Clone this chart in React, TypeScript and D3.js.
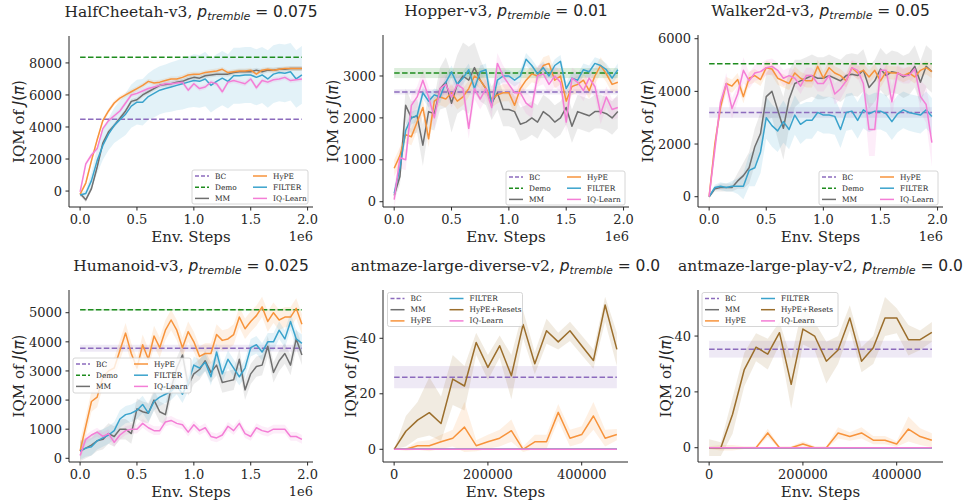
import React from 'react';
import * as d3 from 'd3';

// ---------- colours ----------
const C_BC = '#8c6bbd';
const C_DEMO = '#1e8c1e';
const C_MM = '#6f6f6f';
const C_HYPE = '#f7933b';
const C_FILTER = '#3aa3cc';
const C_IQ = '#f47ed6';
const C_RESETS = '#9b6e2c';

// ---------- x steps ----------
const mujocoSteps = [0, 50000, 100000, 150000, 200000, 250000, 300000, 350000, 400000, 450000, 500000, 550000, 600000, 650000, 700000, 750000, 800000, 850000, 900000, 950000, 1000000, 1050000, 1100000, 1150000, 1200000, 1250000, 1300000, 1350000, 1400000, 1450000, 1500000, 1550000, 1600000, 1650000, 1700000, 1750000, 1800000, 1850000, 1900000, 1950000];
const antSteps = [0, 25000, 50000, 75000, 100000, 125000, 150000, 175000, 200000, 225000, 250000, 275000, 300000, 325000, 350000, 375000, 400000, 425000, 450000, 475000];

const mujocoXTicks = [0, 500000, 1000000, 1500000, 2000000];
const antXTicks = [0, 200000, 400000];

// ---------- HalfCheetah ----------
const hcBC = 4480;
const hcDemo = 8350;
const hcMM = [-150, -550, 150, 1500, 3000, 3700, 4100, 4550, 5000, 5600, 5700, 6000, 6200, 6400, 6600, 6650, 6700, 6800, 6850, 7000, 7100, 7050, 7200, 7250, 7300, 7300, 7300, 7400, 7450, 7450, 7450, 7550, 7450, 7550, 7550, 7600, 7600, 7650, 7650, 7650];
const hcHyPE = [-200, 500, 1900, 3200, 4400, 5000, 5500, 5800, 6000, 6200, 6400, 6600, 6850, 6750, 6800, 6900, 7000, 7000, 7100, 7250, 7300, 7300, 7400, 7450, 7500, 7600, 7400, 7450, 7500, 7500, 7550, 7300, 7550, 7600, 7550, 7600, 7650, 7650, 7650, 7650];
const hcFilter = [-250, -150, 650, 1900, 2850, 3550, 4100, 4450, 4800, 5300, 5550, 5550, 5900, 6100, 6300, 6400, 6500, 6600, 6700, 6800, 6900, 6850, 7000, 6600, 6850, 7050, 6850, 7200, 7200, 7250, 7250, 7100, 7250, 7000, 7300, 7400, 7350, 7450, 7000, 7250];
const hcFilterSpread = [100, 200, 500, 800, 900, 1000, 1100, 1200, 1300, 1350, 1400, 1450, 1450, 1500, 1500, 1500, 1550, 1550, 1600, 1600, 1650, 1650, 1700, 1700, 1700, 1700, 1700, 1750, 1750, 1750, 1750, 1750, 1750, 1800, 1800, 1800, 1800, 1800, 1800, 1800];
const hcIQ = [-50, 1700, 2250, 2650, 3900, 4400, 4700, 5000, 5500, 6000, 6100, 6250, 6400, 6500, 6600, 6700, 6700, 6750, 6800, 6300, 6700, 6400, 6500, 6800, 6700, 6200, 6800, 6900, 6800, 6700, 7000, 6450, 6900, 6800, 6950, 7000, 7100, 6900, 6950, 7000];

// ---------- Hopper ----------
const hpBC = 2620;
const hpDemo = 3070;
const hpMM = [150, 600, 2300, 2000, 2050, 1350, 2150, 2100, 2700, 2850, 2350, 2800, 3000, 2900, 3200, 2900, 2700, 2350, 2600, 2200, 2200, 2150, 1850, 1900, 2000, 1900, 2150, 2050, 1900, 2000, 2250, 1800, 2150, 2100, 2050, 2150, 2150, 2100, 2000, 2150];
const hpMMSpread = [100, 200, 400, 400, 400, 500, 400, 400, 500, 600, 700, 700, 800, 800, 600, 500, 400, 400, 400, 400, 400, 400, 400, 400, 400, 400, 400, 400, 400, 400, 400, 400, 400, 400, 400, 400, 400, 400, 400, 400];
const hpHyPE = [800, 1100, 1600, 1550, 1900, 2250, 1500, 2400, 2500, 2450, 2600, 2400, 2500, 2700, 3000, 2900, 2700, 2450, 2550, 2600, 2600, 2300, 2700, 2900, 3050, 3000, 3250, 3300, 2900, 3000, 2400, 2750, 2800, 2900, 2650, 3000, 3250, 3050, 2800, 2850];
const hpFilter = [200, 800, 1700, 2000, 2050, 2600, 2400, 2550, 2500, 2850, 3100, 2800, 2950, 3150, 2700, 3100, 3150, 2300, 2900, 3000, 3000, 2900, 3000, 3400, 3250, 3050, 3200, 3000, 3250, 3350, 2700, 2950, 2900, 3150, 3100, 3300, 3250, 3150, 2950, 3150];
const hpIQ = [50, 1050, 1000, 2300, 2500, 2900, 2500, 2000, 2700, 2800, 2500, 2800, 2700, 1750, 2700, 2450, 2700, 2250, 3300, 3000, 2800, 2600, 2600, 2350, 2250, 3000, 3050, 2800, 3000, 2850, 1900, 2950, 2850, 2650, 2950, 2750, 2100, 2500, 2200, 2250];

// ---------- Walker2d ----------
const wkBC = 3200;
const wkDemo = 5050;
const wkMM = [0, 300, 350, 350, 350, 600, 800, 1100, 1900, 2400, 3800, 4000, 3300, 2600, 3700, 4300, 4400, 4500, 4600, 4500, 4500, 4600, 4500, 4400, 4600, 4650, 4600, 4800, 4150, 4400, 4850, 4600, 4750, 4700, 4550, 4650, 4950, 4350, 4950, 4750];
const wkMMSpread = [50, 100, 150, 150, 150, 300, 500, 600, 700, 800, 900, 1000, 1100, 1200, 1100, 900, 800, 800, 800, 800, 800, 800, 800, 800, 800, 800, 800, 800, 800, 800, 800, 800, 800, 800, 800, 800, 800, 800, 800, 800];
const wkHyPE = [0, 2000, 3400, 4300, 4200, 4450, 3800, 4500, 4600, 4450, 4900, 4850, 4500, 4400, 4300, 4700, 4500, 4400, 4400, 4950, 4500, 4900, 4700, 4600, 4400, 4900, 4700, 4800, 4550, 4800, 4400, 4750, 4700, 4700, 4600, 4700, 4550, 4800, 4900, 4750];
const wkFilter = [0, 350, 400, 350, 400, 400, 400, 1000, 1100, 1700, 3000, 2700, 2500, 2850, 2550, 3100, 2750, 2900, 2900, 3200, 3100, 3100, 3050, 2550, 3200, 3250, 2900, 3300, 3150, 3250, 3250, 3150, 2850, 3150, 3300, 3200, 3150, 3100, 3300, 3050];
const wkFilterSpread = [50, 100, 150, 150, 200, 300, 500, 600, 700, 800, 800, 800, 800, 800, 750, 750, 750, 700, 700, 700, 700, 700, 700, 700, 700, 700, 700, 700, 700, 700, 700, 700, 700, 700, 700, 700, 700, 700, 700, 700];
const wkIQ = [0, 1800, 3600, 4300, 3350, 3900, 4800, 4400, 4700, 4750, 4900, 4950, 4800, 4500, 4600, 4500, 4200, 4600, 4600, 4300, 4300, 4600, 3900, 4100, 4400, 4900, 4800, 4300, 2550, 2550, 4800, 4800, 3600, 4700, 4600, 4600, 4850, 3800, 3500, 2050];
const wkIQSpread = [0, 300, 300, 400, 400, 300, 500, 300, 300, 300, 300, 300, 300, 300, 300, 300, 300, 300, 300, 300, 300, 300, 400, 400, 300, 300, 300, 300, 1000, 1000, 300, 300, 600, 300, 300, 300, 300, 600, 700, 900];

// ---------- Humanoid ----------
const hmBC = 3780;
const hmDemo = 5100;
const hmMM = [250, 350, 450, 600, 650, 850, 750, 1000, 1000, 850, 1700, 1600, 1550, 2000, 1600, 1500, 2400, 3100, 3550, 2500, 2900, 3050, 3350, 2950, 3200, 2600, 2650, 2700, 3400, 2350, 2900, 3150, 3200, 3850, 2950, 3350, 3600, 3200, 4100, 3550];
const hmHyPE = [250, 1100, 1950, 2100, 2800, 3000, 3100, 3700, 4300, 3600, 3100, 3900, 3400, 4200, 3800, 4400, 4750, 4400, 3800, 4350, 4000, 3500, 3600, 3600, 4250, 4050, 4100, 4250, 4850, 4450, 4700, 4900, 5200, 4700, 5000, 4750, 4850, 4850, 5150, 4600];
const hmFilter = [250, 350, 400, 600, 700, 800, 950, 1350, 1500, 1550, 1650, 1850, 1550, 1950, 2100, 2200, 2300, 2500, 2200, 2600, 3200, 3100, 3300, 2800, 3650, 2900, 3400, 3100, 2800, 3100, 3800, 3900, 3650, 4000, 4000, 4400, 4100, 4700, 4100, 3950];
const hmIQ = [100, 650, 800, 900, 750, 850, 550, 800, 950, 1000, 1000, 1200, 1050, 950, 950, 1250, 1300, 1200, 1150, 900, 1150, 950, 1050, 750, 700, 800, 1100, 950, 1200, 850, 750, 1050, 950, 900, 1000, 1000, 1000, 750, 750, 650];

// ---------- antmaze-large-diverse ----------
const adBC = 26;
const adZero = [0, 0, 0, 0, 0, 0, 0, 0, 0, 0, 0, 0, 0, 0, 0, 0, 0, 0, 0, 0];
const adHyPE = [0, 0, 1.3, 1.3, 2.7, 4, 8, 1.3, 2.7, 4, 6.7, 0, 2.7, 2.7, 13.3, 4, 5.3, 12, 4, 5.3];
const adHyPESpread = [0, 0.5, 1.5, 2, 2.5, 3, 9, 2, 2.5, 3, 4, 1, 2.5, 2.5, 3, 3, 3, 5, 3, 2];
const adResets = [0, 6.5, 10.5, 13.2, 9.3, 25.3, 22.8, 38.5, 29.5, 37.3, 26.5, 45, 30.8, 42.7, 38.7, 42.7, 37.3, 32, 52, 36];
const adResetsLo = [0, 1, 4, 5, 3, 16, 14, 34, 25, 33, 18, 40, 27, 38, 36, 39, 34, 29, 46, 30];
const adResetsHi = [0, 12, 17, 26, 19, 34, 30, 42, 34, 41, 34, 50, 35, 47, 42, 46, 41, 36, 55, 42];

// ---------- antmaze-large-play ----------
const apBC = 35.3;
const apZero = [0, 0, 0, 0, 0, 0, 0, 0, 0, 0, 0, 0, 0, 0, 0, 0, 0, 0, 0, 0];
const apHyPE = [0, 0, 0, 0, 0, 5.3, 0, 0, 1.3, 0, 0, 5.3, 4, 5.3, 2.7, 2.7, 1.3, 6.7, 4, 2.7];
const apHyPESpread = [0.5, 1, 1, 0.5, 0.5, 1.5, 0.5, 0.5, 1, 0.5, 0.5, 2, 1.5, 2, 1.5, 1.5, 1, 4.5, 3, 2.5];
const apResets = [0, 0, 12, 28, 36, 33.5, 41.2, 22.7, 42.5, 40, 31, 35, 46.5, 31, 35.8, 46.5, 46.5, 38.7, 38.7, 41.3];
const apResetsLo = [-3, -3, 5, 22, 31, 28, 37, 14, 37, 35, 23, 30, 42, 27, 30, 40, 41, 33, 35, 38];
const apResetsHi = [3, 2, 18, 34, 41, 39, 45, 32, 51, 45, 38, 40, 51, 36, 40, 54, 50, 44, 42, 45];

// ---------- types ----------
type Series = { label: string; color: string; values: number[]; spread?: number | number[]; lo?: number[]; hi?: number[] };
type HLine = { label: string; color: string; value: number; spread: number };
type Cfg = {
  name: string; p: string;
  box: { l: number; r: number; t: number; b: number };
  steps: number[]; xDomain: [number, number]; yDomain: [number, number];
  xTicks: number[]; xFmt: (v: number) => string; offsetText?: string;
  yTicks: number[];
  hlines: HLine[]; series: Series[];
  legend: { x: number; y: number; w: number; h: number; col: number; order: string[] };
};

const mFmt = (v: number) => (v / 1e6).toFixed(1);
const aFmt = (v: number) => String(v);

const mujocoLegend = ['BC', 'Demo', 'MM', 'HyPE', 'FILTER', 'IQ-Learn'];
const antLegend = ['BC', 'MM', 'HyPE', 'FILTER', 'HyPE+Resets', 'IQ-Learn'];

const panels: Cfg[] = [
  {
    name: 'HalfCheetah-v3', p: '0.075', box: { l: 69, r: 313, t: 36, b: 207 },
    steps: mujocoSteps, xDomain: [-97500, 2047500], yDomain: [-996, 9682],
    xTicks: mujocoXTicks, xFmt: mFmt, offsetText: '1e6', yTicks: [0, 2000, 4000, 6000, 8000],
    hlines: [{ label: 'BC', color: C_BC, value: hcBC, spread: 0 }, { label: 'Demo', color: C_DEMO, value: hcDemo, spread: 0 }],
    series: [
      { label: 'MM', color: C_MM, values: hcMM, spread: 150 },
      { label: 'HyPE', color: C_HYPE, values: hcHyPE, spread: 150 },
      { label: 'FILTER', color: C_FILTER, values: hcFilter, spread: hcFilterSpread },
      { label: 'IQ-Learn', color: C_IQ, values: hcIQ, spread: 150 },
    ],
    legend: { x: 192, y: 170, w: 116, h: 34, col: 58, order: mujocoLegend },
  },
  {
    name: 'Hopper-v3', p: '0.01', box: { l: 383, r: 629, t: 35, b: 207 },
    steps: mujocoSteps, xDomain: [-97500, 2047500], yDomain: [-126, 3978],
    xTicks: mujocoXTicks, xFmt: mFmt, offsetText: '1e6', yTicks: [0, 1000, 2000, 3000],
    hlines: [{ label: 'BC', color: C_BC, value: hpBC, spread: 60 }, { label: 'Demo', color: C_DEMO, value: hpDemo, spread: 120 }],
    series: [
      { label: 'MM', color: C_MM, values: hpMM, spread: hpMMSpread },
      { label: 'HyPE', color: C_HYPE, values: hpHyPE, spread: 200 },
      { label: 'FILTER', color: C_FILTER, values: hpFilter, spread: 150 },
      { label: 'IQ-Learn', color: C_IQ, values: hpIQ, spread: 250 },
    ],
    legend: { x: 506, y: 171, w: 119, h: 34, col: 58, order: mujocoLegend },
  },
  {
    name: 'Walker2d-v3', p: '0.05', box: { l: 698, r: 943, t: 35, b: 207 },
    steps: mujocoSteps, xDomain: [-97500, 2047500], yDomain: [-391, 6141],
    xTicks: mujocoXTicks, xFmt: mFmt, offsetText: '1e6', yTicks: [0, 2000, 4000, 6000],
    hlines: [{ label: 'BC', color: C_BC, value: wkBC, spread: 200 }, { label: 'Demo', color: C_DEMO, value: wkDemo, spread: 0 }],
    series: [
      { label: 'MM', color: C_MM, values: wkMM, spread: wkMMSpread },
      { label: 'HyPE', color: C_HYPE, values: wkHyPE, spread: 250 },
      { label: 'FILTER', color: C_FILTER, values: wkFilter, spread: wkFilterSpread },
      { label: 'IQ-Learn', color: C_IQ, values: wkIQ, spread: wkIQSpread },
    ],
    legend: { x: 819, y: 171, w: 119, h: 34, col: 58, order: mujocoLegend },
  },
  {
    name: 'Humanoid-v3', p: '0.025', box: { l: 69, r: 313, t: 290, b: 462 },
    steps: mujocoSteps, xDomain: [-97500, 2047500], yDomain: [-127, 5780],
    xTicks: mujocoXTicks, xFmt: mFmt, offsetText: '1e6', yTicks: [0, 1000, 2000, 3000, 4000, 5000],
    hlines: [{ label: 'BC', color: C_BC, value: hmBC, spread: 120 }, { label: 'Demo', color: C_DEMO, value: hmDemo, spread: 30 }],
    series: [
      { label: 'MM', color: C_MM, values: hmMM, spread: 350 },
      { label: 'HyPE', color: C_HYPE, values: hmHyPE, spread: 350 },
      { label: 'FILTER', color: C_FILTER, values: hmFilter, spread: 300 },
      { label: 'IQ-Learn', color: C_IQ, values: hmIQ, spread: 150 },
    ],
    legend: { x: 73, y: 358, w: 118, h: 35, col: 58, order: mujocoLegend },
  },
  {
    name: 'antmaze-large-diverse-v2', p: '0.0', box: { l: 383, r: 628, t: 290, b: 462 },
    steps: antSteps, xDomain: [-23750, 498750], yDomain: [-4.58, 57.4],
    xTicks: antXTicks, xFmt: aFmt, yTicks: [0, 20, 40],
    hlines: [{ label: 'BC', color: C_BC, value: adBC, spread: 4 }],
    series: [
      { label: 'MM', color: C_MM, values: adZero, spread: 0 },
      { label: 'HyPE', color: C_HYPE, values: adHyPE, spread: adHyPESpread },
      { label: 'FILTER', color: C_FILTER, values: adZero, spread: 0 },
      { label: 'HyPE+Resets', color: C_RESETS, values: adResets, lo: adResetsLo, hi: adResetsHi },
      { label: 'IQ-Learn', color: C_IQ, values: adZero, spread: 0 },
    ],
    legend: { x: 387.5, y: 292.5, w: 135, h: 34, col: 59, order: antLegend },
  },
  {
    name: 'antmaze-large-play-v2', p: '0.0', box: { l: 698, r: 943, t: 290, b: 462 },
    steps: antSteps, xDomain: [-23750, 498750], yDomain: [-5.12, 56.5],
    xTicks: antXTicks, xFmt: aFmt, yTicks: [0, 20, 40],
    hlines: [{ label: 'BC', color: C_BC, value: apBC, spread: 3 }],
    series: [
      { label: 'MM', color: C_MM, values: apZero, spread: 0 },
      { label: 'HyPE', color: C_HYPE, values: apHyPE, spread: apHyPESpread },
      { label: 'FILTER', color: C_FILTER, values: apZero, spread: 0 },
      { label: 'HyPE+Resets', color: C_RESETS, values: apResets, lo: apResetsLo, hi: apResetsHi },
      { label: 'IQ-Learn', color: C_IQ, values: apZero, spread: 0 },
    ],
    legend: { x: 702, y: 292.5, w: 136, h: 34, col: 56, order: antLegend },
  },
];

const SERIF = 'DejaVu Serif';
const SANS = 'DejaVu Sans';
const INK = '#262626';
const DASH = '5.5,2.4';

function Panel({ cfg }: { cfg: Cfg }) {
  const { box, steps } = cfg;
  const x = d3.scaleLinear().domain(cfg.xDomain).range([box.l, box.r]);
  const y = d3.scaleLinear().domain(cfg.yDomain).range([box.b, box.t]);
  const xs0 = x(steps[0]);
  const xs1 = x(steps[steps.length - 1]);
  const sp = (s: number | number[] | undefined, i: number) => (s === undefined ? 0 : typeof s === 'number' ? s : s[i]);
  const line = d3.line<number>().x((_, i) => x(steps[i])).y((d) => y(d));
  const area = d3
    .area<number>()
    .x((_, i) => x(steps[i]));
  const cx = (box.l + box.r) / 2;
  const titleY = box.t - 19;
  const styleOf = (label: string) => {
    const h = cfg.hlines.find((d) => d.label === label);
    if (h) return { color: h.color, dashed: true };
    const s = cfg.series.find((d) => d.label === label)!;
    return { color: s.color, dashed: false };
  };
  const lg = cfg.legend;
  return (
    <g>
      {/* bands */}
      {cfg.hlines.map((h) =>
        h.spread > 0 ? (
          <rect key={'hb' + h.label} x={xs0} width={xs1 - xs0} y={y(h.value + h.spread)} height={y(h.value - h.spread) - y(h.value + h.spread)} fill={h.color} opacity={0.15} />
        ) : null
      )}
      {cfg.series.map((s) => {
        const lo = s.lo ? s.lo : s.values.map((v, i) => v - sp(s.spread, i));
        const hi = s.hi ? s.hi : s.values.map((v, i) => v + sp(s.spread, i));
        const a = area.y0((_, i) => y(lo[i])).y1((_, i) => y(hi[i]));
        return <path key={'b' + s.label} d={a(s.values) || ''} fill={s.color} opacity={0.14} stroke="none" />;
      })}
      {/* hlines */}
      {cfg.hlines.map((h) => (
        <line key={'h' + h.label} x1={xs0} x2={xs1} y1={y(h.value)} y2={y(h.value)} stroke={h.color} strokeWidth={1.5} strokeDasharray={DASH} />
      ))}
      {/* series lines */}
      {cfg.series.map((s) => (
        <path key={'l' + s.label} d={line(s.values) || ''} fill="none" stroke={s.color} strokeWidth={1.5} strokeLinejoin="round" />
      ))}
      {/* spines */}
      <line x1={box.l} x2={box.l} y1={box.t} y2={box.b} stroke={INK} strokeWidth={1} />
      <line x1={box.l} x2={box.r} y1={box.b} y2={box.b} stroke={INK} strokeWidth={1} />
      {/* x ticks */}
      {cfg.xTicks.map((t) => (
        <g key={'xt' + t}>
          <line x1={x(t)} x2={x(t)} y1={box.b} y2={box.b + 3.5} stroke={INK} strokeWidth={1} />
          <text x={x(t)} y={box.b + 16.5} textAnchor="middle" fontFamily={SERIF} fontSize={13} fill={INK}>
            {cfg.xFmt(t)}
          </text>
        </g>
      ))}
      {/* y ticks */}
      {cfg.yTicks.map((t) => (
        <g key={'yt' + t}>
          <line x1={box.l - 3.5} x2={box.l} y1={y(t)} y2={y(t)} stroke={INK} strokeWidth={1} />
          <text x={box.l - 7} y={y(t)} dy="0.36em" textAnchor="end" fontFamily={SERIF} fontSize={13} fill={INK}>
            {t}
          </text>
        </g>
      ))}
      {cfg.offsetText ? (
        <text x={box.r} y={box.b + 34} textAnchor="end" fontFamily={SERIF} fontSize={13} fill={INK}>
          {cfg.offsetText}
        </text>
      ) : null}
      {/* axis labels */}
      <text x={cx} y={box.b + 35} textAnchor="middle" fontFamily={SERIF} fontSize={15} fill={INK}>
        Env. Steps
      </text>
      <text
        transform={`translate(${box.l - (cfg.offsetText ? 45 : 27)},${(box.t + box.b) / 2}) rotate(-90)`}
        textAnchor="middle" fontFamily={SERIF} fontSize={15} fill={INK} style={{ whiteSpace: 'pre' }}
      >
        {'IQM of '}
        <tspan fontFamily={SANS} fontStyle="italic">J</tspan>
        <tspan fontFamily={SANS}>(</tspan>
        <tspan fontFamily={SANS} fontStyle="italic">π</tspan>
        <tspan fontFamily={SANS}>)</tspan>
      </text>
      {/* title */}
      <text x={cx} y={titleY} textAnchor="middle" fontFamily={SERIF} fontSize={15.5} fill={INK} style={{ whiteSpace: 'pre' }}>
        {cfg.name + ', '}
        <tspan fontFamily={SANS} fontStyle="italic">p</tspan>
        <tspan fontFamily={SANS} fontStyle="italic" fontSize={11} dy={3}>tremble</tspan>
        <tspan fontFamily={SANS} dy={-3}>{' = ' + cfg.p}</tspan>
      </text>
      {/* legend */}
      <g>
        <rect x={lg.x} y={lg.y} width={lg.w} height={lg.h} rx={2} fill="#ffffff" fillOpacity={0.8} stroke="#cccccc" strokeWidth={0.8} />
        {lg.order.map((label, i) => {
          const col = Math.floor(i / 3);
          const row = i % 3;
          const yy = lg.y + 6 + row * 11.2;
          const hx = lg.x + 3 + col * lg.col;
          const st = styleOf(label);
          return (
            <g key={'lg' + label}>
              <line x1={hx} x2={hx + 14} y1={yy} y2={yy} stroke={st.color} strokeWidth={1.5} strokeDasharray={st.dashed ? '4,2' : undefined} />
              <text x={hx + 20} y={yy} dy="0.35em" fontFamily={SERIF} fontSize={7.4} fill={INK}>
                {label}
              </text>
            </g>
          );
        })}
      </g>
    </g>
  );
}

export default function App() {
  return (
    <svg width={963} height={503} viewBox="0 0 963 503" style={{ position: 'absolute', left: 0, top: 0, background: '#ffffff' }}>
      <rect x={0} y={0} width={963} height={503} fill="#ffffff" />
      {panels.map((cfg) => (
        <Panel key={cfg.name} cfg={cfg} />
      ))}
    </svg>
  );
}
